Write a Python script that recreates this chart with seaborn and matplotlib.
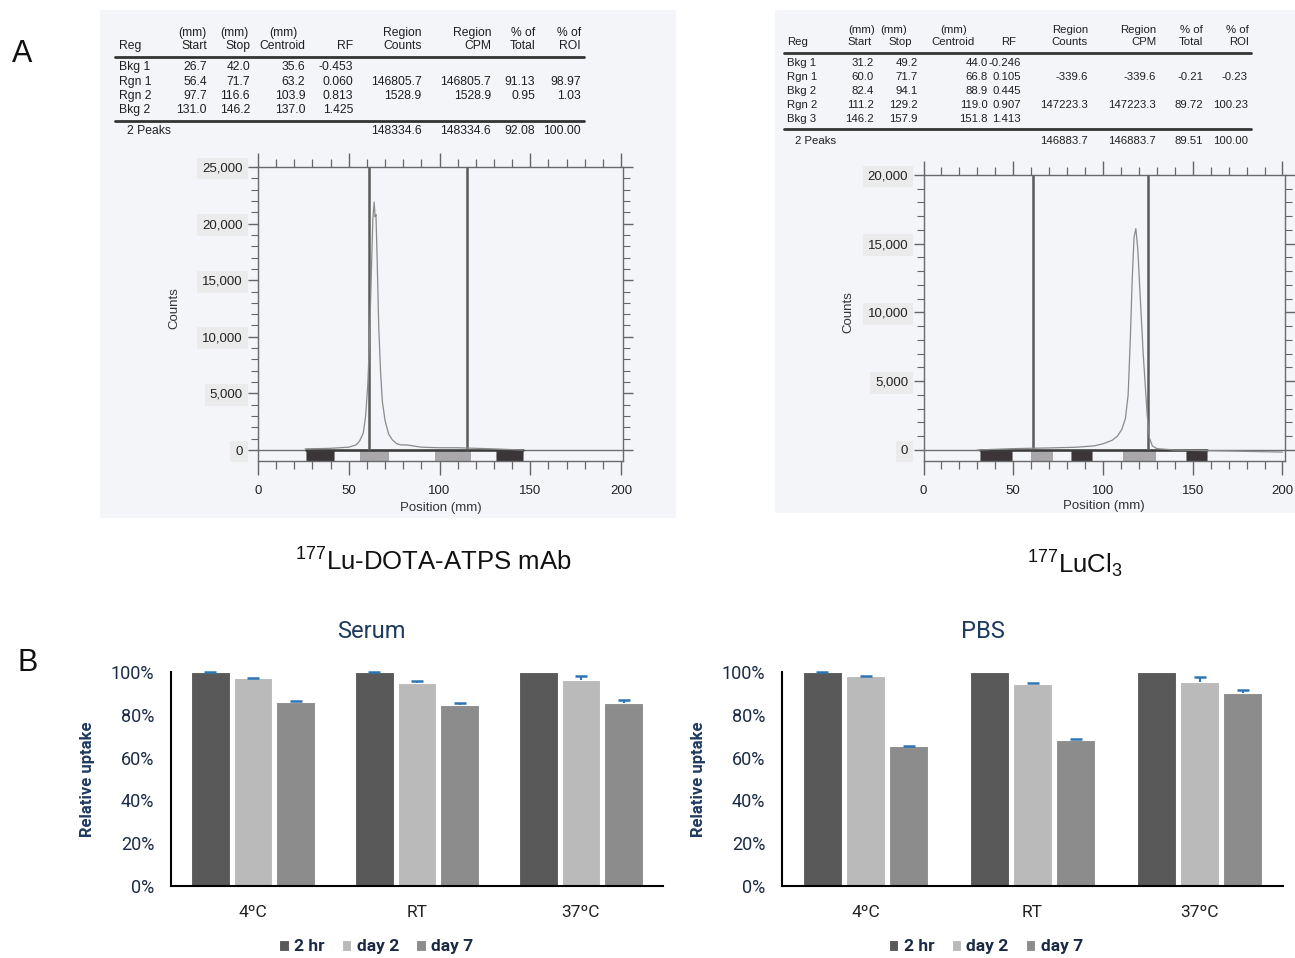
import numpy as np
import pandas as pd
import matplotlib
matplotlib.use("Agg")
import matplotlib.pyplot as plt
from matplotlib.patches import Rectangle
from matplotlib.ticker import MultipleLocator, FixedLocator, FuncFormatter
from matplotlib.font_manager import FontProperties
import seaborn as sns

W, H = 1295, 958

# ---------------- Panel A data : 177Lu-DOTA-ATPS mAb ----------------
lu_reg = ["Bkg 1", "Rgn 1", "Rgn 2", "Bkg 2"]
lu_start = [26.7, 56.4, 97.7, 131.0]
lu_stop = [42.0, 71.7, 116.6, 146.2]
lu_centroid = [35.6, 63.2, 103.9, 137.0]
lu_rf = [-0.453, 0.060, 0.813, 1.425]
lu_counts = [None, 146805.7, 1528.9, None]
lu_cpm = [None, 146805.7, 1528.9, None]
lu_pct_total = [None, 91.13, 0.95, None]
lu_pct_roi = [None, 98.97, 1.03, None]
lu_summary_label = "2 Peaks"
lu_summary = [148334.6, 148334.6, 92.08, 100.00]
lu_markers = [61.3, 115.0]
lu_pos = [26, 40, 50, 54, 56, 58.0, 59.3, 60.5, 61.5, 62.5, 63.3, 64.0, 64.5,
          65.0, 65.7, 66.5, 67.5, 68.5, 70.0, 72.0, 74.0, 76.5, 79, 82, 86, 90,
          100, 110, 120, 130, 146]
lu_trace = [100, 150, 250, 450, 800, 1500, 3000, 5800, 10000, 16000, 20500,
            21900, 20600, 20800, 16500, 11000, 7000, 4300, 2600, 1400, 900,
            550, 450, 450, 350, 250, 200, 200, 150, 100, 0]

# ---------------- Panel A data : 177LuCl3 ----------------
cl_reg = ["Bkg 1", "Rgn 1", "Bkg 2", "Rgn 2", "Bkg 3"]
cl_start = [31.2, 60.0, 82.4, 111.2, 146.2]
cl_stop = [49.2, 71.7, 94.1, 129.2, 157.9]
cl_centroid = [44.0, 66.8, 88.9, 119.0, 151.8]
cl_rf = [-0.246, 0.105, 0.445, 0.907, 1.413]
cl_counts = [None, -339.6, None, 147223.3, None]
cl_cpm = [None, -339.6, None, 147223.3, None]
cl_pct_total = [None, -0.21, None, 89.72, None]
cl_pct_roi = [None, -0.23, None, 100.23, None]
cl_summary_label = "2 Peaks"
cl_summary = [146883.7, 146883.7, 89.51, 100.00]
cl_markers = [60.8, 125.2]
cl_pos = [30, 50, 70, 85, 95, 100, 105, 108, 110.5, 112.5, 114.0, 115.2, 116.3,
          117.3, 118.3, 119.4, 120.4, 121.4, 122.4, 123.5, 124.6, 125.8, 127.5,
          130, 140, 160, 200]
cl_trace = [0, 100, 150, 200, 300, 450, 700, 1000, 1500, 2300, 4000, 8000,
            12500, 15500, 16100, 14600, 12000, 9500, 7000, 4800, 2600, 900,
            300, 100, 0, -50, -150]

# ---------------- Panel B data ----------------
conditions = ["4ºC", "RT", "37ºC"]
timepoints = ["2 hr", "day 2", "day 7"]
serum_2hr = [100.0, 100.0, 100.0]
serum_day2 = [97.0, 95.0, 96.1]
serum_day7 = [86.1, 84.8, 85.4]
serum_err_2hr = [0.0, 0.0, np.nan]
serum_err_day2 = [0.2, 0.8, 2.0]
serum_err_day7 = [0.2, 0.6, 1.4]
pbs_2hr = [100.0, 100.0, 100.0]
pbs_day2 = [98.0, 94.3, 95.5]
pbs_day7 = [65.3, 68.4, 90.4]
pbs_err_2hr = [0.0, np.nan, np.nan]
pbs_err_day2 = [0.2, 0.4, 2.0]
pbs_err_day7 = [0.2, 0.4, 1.3]

# ---------------- styling ----------------
sns.set_theme(style="white")
plt.rcParams['font.family'] = ['Liberation Sans', 'DejaVu Sans']
plt.rcParams['mathtext.fontset'] = 'custom'
plt.rcParams['mathtext.rm'] = 'Liberation Sans'

fig = plt.figure(figsize=(W / 100, H / 100), dpi=100)
fig.patch.set_facecolor('white')


def fx(x):
    return x / W


def fy(y):
    return 1 - y / H


def add_ax_px(left, top, right, bottom):
    return fig.add_axes([fx(left), fy(bottom), (right - left) / W, (bottom - top) / H])


# background panels of the scanned reports
BG = '#f3f5f9'
fig.add_artist(Rectangle((fx(100), fy(518)), 576 / W, 508 / H, transform=fig.transFigure,
                         facecolor=BG, edgecolor='none', zorder=-5))
fig.add_artist(Rectangle((fx(775), fy(513)), 520 / W, 503 / H, transform=fig.transFigure,
                         facecolor=BG, edgecolor='none', zorder=-5))

TXT = '#1f1f1f'


def fmt(v, d):
    return "" if v is None else f"{v:.{d}f}"


def draw_table(reg_x, sum_x, hdr_right, val_right, mm_centers, y_h1, y_h2, y_line1,
               rows_y, y_line2, y_sum, line_x, cols, reg, summary_label, summary, size):
    kw = dict(fontsize=size, color=TXT, va='center')
    fig.text(fx(reg_x), fy(y_h2), "Reg", ha='left', **kw)
    h2 = ["Start", "Stop", "Centroid", "RF", "Counts", "CPM", "Total", "ROI"]
    h1 = [None, None, None, None, "Region", "Region", "% of", "% of"]
    for i, (a, b) in enumerate(zip(h1, h2)):
        fig.text(fx(hdr_right[i]), fy(y_h2), b, ha='right', **kw)
        if a:
            fig.text(fx(hdr_right[i]), fy(y_h1), a, ha='right', **kw)
    for c in mm_centers:
        fig.text(fx(c), fy(y_h1), "(mm)", ha='center', **kw)
    fig.add_artist(plt.Line2D([fx(line_x[0]), fx(line_x[1])], [fy(y_line1)] * 2,
                              transform=fig.transFigure, color='#333333', lw=2.0))
    fig.add_artist(plt.Line2D([fx(line_x[0]), fx(line_x[1])], [fy(y_line2)] * 2,
                              transform=fig.transFigure, color='#333333', lw=2.0))
    digits = [1, 1, 1, 3, 1, 1, 2, 2]
    for r, y in enumerate(rows_y):
        fig.text(fx(reg_x), fy(y), reg[r], ha='left', **kw)
        for c in range(8):
            s = fmt(cols[c][r], digits[c])
            if s:
                fig.text(fx(val_right[c]), fy(y), s, ha='right', **kw)
    fig.text(fx(sum_x), fy(y_sum), summary_label, ha='left', **kw)
    for k, c in enumerate(range(4, 8)):
        fig.text(fx(val_right[c]), fy(y_sum), fmt(summary[k], digits[c]), ha='right', **kw)


draw_table(119, 127,
           [207, 250, 305.5, 353, 421.5, 491, 535, 581],
           [207, 250, 305.5, 353, 421.5, 491, 535, 581],
           [192, 234, 283], 33, 46, 57, [67, 82, 96, 110], 121, 131, (115, 584),
           [lu_start, lu_stop, lu_centroid, lu_rf, lu_counts, lu_cpm, lu_pct_total, lu_pct_roi],
           lu_reg, lu_summary_label, lu_summary, 8.7)

draw_table(787, 795,
           [872, 912, 975, 1016, 1088, 1156, 1203, 1249],
           [874, 918, 988, 1021, 1088, 1156, 1203, 1248],
           [862, 894, 954], 30, 42, 52.5, [63, 77, 91, 105, 119], 129, 141, (784, 1251),
           [cl_start, cl_stop, cl_centroid, cl_rf, cl_counts, cl_cpm, cl_pct_total, cl_pct_roi],
           cl_reg, cl_summary_label, cl_summary, 8.2)


def chromatogram(ax, pos, trace, starts, stops, regs, markers, ytop, ybot, xmax, lab_xy):
    ax.set_facecolor('none')
    colors = ['#3b3537' if r.startswith('Bkg') else '#a9a7aa' for r in regs]
    widths = [b - a for a, b in zip(starts, stops)]
    ax.bar(starts, [-ybot] * len(starts), width=widths, bottom=ybot, align='edge',
           color=colors, edgecolor='#888888', linewidth=0.4, zorder=2)
    ax.axhline(0, color='#707070', lw=1.0, zorder=3)
    ax.plot([starts[0], stops[-1]], [0, 0], color='#3a3a3a', lw=1.8, zorder=3)
    ax.vlines(markers, 0, ytop, color='#5a5a5a', lw=1.8, zorder=4)
    sns.lineplot(x=pos, y=trace, ax=ax, color='#8a8a8a', lw=0.9, sort=False, zorder=5)
    ax.set_xlim(0, xmax)
    ax.set_ylim(ybot, ytop)
    for s in ax.spines.values():
        s.set_color('#6a6a6a')
        s.set_linewidth(1.0)
        s.set_visible(True)
    ax.xaxis.set_major_locator(MultipleLocator(50))
    ax.xaxis.set_minor_locator(MultipleLocator(10))
    ax.yaxis.set_major_locator(FixedLocator(np.arange(0, ytop + 1, 5000)))
    ax.yaxis.set_minor_locator(FixedLocator(np.arange(0, ytop + 1, 1000)))
    ax.yaxis.set_major_formatter(FuncFormatter(lambda v, p: f"{v:,.0f}"))
    ax.tick_params(axis='both', which='both', direction='out', color='#666666',
                   top=True, bottom=True, left=True, right=True,
                   labeltop=False, labelright=False, labelcolor='#222222', labelsize=9.5)
    ax.tick_params(axis='x', which='major', length=10, width=1.0, pad=7)
    ax.tick_params(axis='x', which='minor', length=6, width=0.9)
    ax.tick_params(axis='y', which='major', length=7, width=1.0, pad=4)
    ax.tick_params(axis='y', which='minor', length=5, width=0.8)
    for lbl in ax.get_yticklabels():
        lbl.set_bbox(dict(facecolor='#ebebeb', edgecolor='none', pad=3.5))
    ax.set_xlabel("Position (mm)", fontsize=9.5, color='#333333')
    ax.set_ylabel("Counts", fontsize=9.5, color='#333333')
    ax.xaxis.set_label_coords(0.5, lab_xy[0])
    ax.yaxis.set_label_coords(lab_xy[1], 0.52)
    ax.grid(False)


axL = add_ax_px(258, 167, 623, 461)
chromatogram(axL, lu_pos, lu_trace, lu_start, lu_stop, lu_reg, lu_markers,
             25000, -970, 201.1, (-0.14, -0.214))
axR = add_ax_px(923.5, 175, 1285, 461)
chromatogram(axR, cl_pos, cl_trace, cl_start, cl_stop, cl_reg, cl_markers,
             20000, -800, 201.4, (-0.135, -0.19))

# captions and panel letters
fig.text(fx(433), fy(562), r"$\mathregular{^{177}}$Lu-DOTA-ATPS mAb", fontsize=18.5,
         ha='center', va='center', color='#111111')
fig.text(fx(1075), fy(564), r"$\mathregular{^{177}}$LuCl$\mathregular{_3}$", fontsize=18.5,
         ha='center', va='center', color='#111111')
fig.text(fx(22), fy(54), "A", fontsize=22, ha='center', va='center', color='#111111')
fig.text(fx(28), fy(663), "B", fontsize=22, ha='center', va='center', color='#111111')

# ---------------- Panel B ----------------
BAR_COLORS = ['#595959', '#bababa', '#8c8c8c']
NAVY = '#1f3a5f'
ERR = '#2e75b6'


def uptake(ax, v2hr, vday2, vday7, errs, title, title_x, leg_x, ylab_x):
    df = pd.DataFrame({
        "condition": conditions * 3,
        "timepoint": [t for t in timepoints for _ in conditions],
        "value": list(v2hr) + list(vday2) + list(vday7),
    })
    sns.barplot(data=df, x="condition", y="value", hue="timepoint", order=conditions,
                hue_order=timepoints, palette=BAR_COLORS, width=0.78, gap=0.1,
                errorbar=None, edgecolor='white', linewidth=0.8, saturation=1, ax=ax)
    for cont, e in zip(ax.containers, errs):
        e = np.asarray(e, dtype=float)
        xs = np.array([b.get_x() + b.get_width() / 2 for b in cont])
        ys = np.array([b.get_height() for b in cont])
        ax.errorbar(xs, ys, yerr=[np.zeros_like(e), e], fmt='none', ecolor=ERR,
                    elinewidth=1.5, capsize=0, clip_on=False, zorder=6)
        ax.plot(xs, ys + e, ls='none', marker='_', ms=9, mew=1.8, color=ERR,
                clip_on=False, zorder=6)
    ax.set_ylim(0, 100)
    ax.set_xlim(-0.5, 2.5)
    ax.yaxis.set_major_locator(MultipleLocator(20))
    ax.yaxis.set_major_formatter(FuncFormatter(lambda v, p: f"{v:.0f}%"))
    sns.despine(ax=ax)
    for s in ('left', 'bottom'):
        ax.spines[s].set_color('black')
        ax.spines[s].set_linewidth(1.5)
    ax.tick_params(axis='both', length=0, labelfontfamily='Roboto')
    ax.tick_params(axis='y', labelsize=13, labelcolor='#1c2b45', pad=12)
    ax.tick_params(axis='x', labelsize=12.5, labelcolor='#222222', pad=14)
    ax.set_xlabel("")
    ax.set_ylabel("Relative uptake", fontfamily='Roboto', fontweight='bold',
                  fontsize=12, color=NAVY)
    ax.yaxis.set_label_coords(ylab_x, 0.5)
    ax.grid(False)
    ax.set_facecolor('white')
    handles, labels = ax.get_legend_handles_labels()
    if ax.get_legend() is not None:
        ax.get_legend().remove()
    ax.legend(handles, labels, loc='center', bbox_to_anchor=(leg_x, -0.285), ncol=3,
              frameon=False, prop=FontProperties(family='Roboto', weight='bold', size=12.5),
              handlelength=0.55, handleheight=0.55, handletextpad=0.3,
              columnspacing=1.0, labelcolor='#1a2a44')
    fig.text(fx(title_x), fy(632), title, fontfamily='Roboto', fontsize=17,
             color=NAVY, ha='center', va='center')


axS = add_ax_px(171, 672, 663, 886)
uptake(axS, serum_2hr, serum_day2, serum_day7,
       [serum_err_2hr, serum_err_day2, serum_err_day7], "Serum", 371, 0.417, -0.155)
axP = add_ax_px(782, 672, 1283, 886)
uptake(axP, pbs_2hr, pbs_day2, pbs_day7,
       [pbs_err_2hr, pbs_err_day2, pbs_err_day7], "PBS", 983, 0.407, -0.152)

fig.savefig("out.png", dpi=100, facecolor='white')
